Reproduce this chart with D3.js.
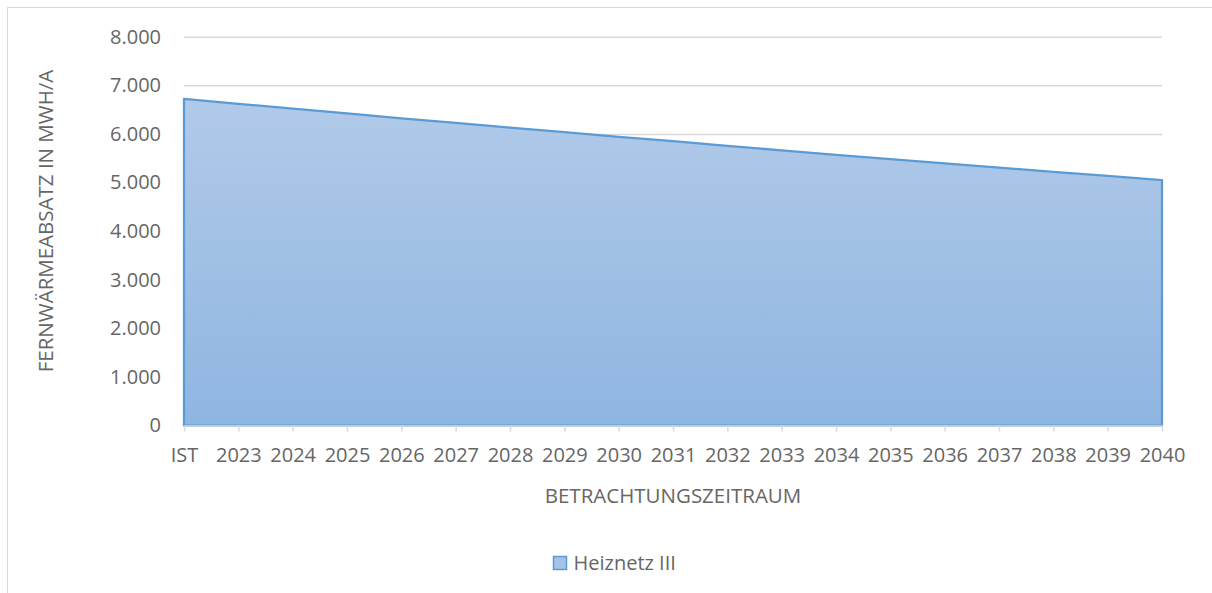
<!DOCTYPE html>
<html lang="de">
<head>
  <meta charset="UTF-8">
  <title>Fernwärmeabsatz Heiznetz III</title>
  <script src="https://d3js.org/d3.v7.min.js"></script>
  <style>
    body { margin: 0; background: #fff; }
    svg { display: block; font-family: "Open Sans", sans-serif; }
    .tick text { fill: #666; font-size: 20px; font-family: "Open Sans", sans-serif; }
  </style>
</head>
<body>
  <svg width="1212" height="593"></svg>

  <script>
    const categories = [`IST`, `2023`, `2024`, `2025`, `2026`, `2027`, `2028`, `2029`, `2030`,
      `2031`, `2032`, `2033`, `2034`, `2035`, `2036`, `2037`, `2038`, `2039`, `2040`];
    const heiznetz3 = [6720, 6620, 6520, 6420, 6320, 6225, 6130, 6035, 5940,
      5850, 5755, 5660, 5570, 5480, 5395, 5305, 5220, 5135, 5050];
    const yTicks = [0, 1000, 2000, 3000, 4000, 5000, 6000, 7000, 8000];
    const seriesName = `Heiznetz III`;
    const xTitle = `BETRACHTUNGSZEITRAUM`;
    const yTitle = `FERNWÄRMEABSATZ IN MWH/A`;

    const width = 1212;
    const height = 593;
    const margin = {top: 36.7, bottom: 167.5, left: 184, right: 50};

    const de = d3.formatLocale({decimal: `,`, thousands: `.`, grouping: [3], currency: [``, `€`]});
    const fmt = de.format(`,d`);

    const data = categories.map((c, i) => ({cat: c, value: heiznetz3[i]}));

    const xScale = d3.scalePoint()
      .domain(categories)
      .range([margin.left, width - margin.right])
      .padding(0);

    const yScale = d3.scaleLinear()
      .domain([0, 8000])
      .range([height - margin.bottom, margin.top]);

    const svg = d3.select(`svg`);

    // chart border (cut off on the right and bottom in the source)
    svg.append(`rect`)
      .attr(`x`, 7.5).attr(`y`, 7.5)
      .attr(`width`, 1220).attr(`height`, 600)
      .attr(`fill`, `none`)
      .attr(`stroke`, `#d9d9d9`);

    const defs = svg.append(`defs`);
    const grad = defs.append(`linearGradient`)
      .attr(`id`, `fillGrad`)
      .attr(`gradientUnits`, `userSpaceOnUse`)
      .attr(`x1`, 0).attr(`x2`, 0)
      .attr(`y1`, yScale(d3.max(heiznetz3))).attr(`y2`, yScale(0));
    grad.append(`stop`).attr(`offset`, `0%`).attr(`stop-color`, `#b1cae9`);
    grad.append(`stop`).attr(`offset`, `100%`).attr(`stop-color`, `#8fb5e1`);

    // gridlines
    const yAxis = d3.axisLeft(yScale)
      .tickValues(yTicks)
      .tickFormat(fmt)
      .tickSize(-(width - margin.right - margin.left))
      .tickPadding(23);

    const gy = svg.append(`g`)
      .attr(`transform`, `translate(${margin.left}, 0)`)
      .call(yAxis)
      .attr(`font-family`, null);
    gy.select(`.domain`).remove();
    gy.selectAll(`.tick line`)
      .attr(`stroke`, `#d9d9d9`)
      .attr(`stroke-width`, 1.5)
      .filter(d => d === 0).remove();

    const area = d3.area()
      .x(d => xScale(d.cat))
      .y0(yScale(0))
      .y1(d => yScale(d.value));

    svg.append(`path`)
      .datum(data)
      .attr(`d`, area)
      .attr(`fill`, `url(#fillGrad)`)
      .attr(`stroke`, `#5b9bd5`)
      .attr(`stroke-width`, 2.25)
      .attr(`stroke-linejoin`, `round`);

    const xAxis = d3.axisBottom(xScale)
      .tickSizeInner(6)
      .tickSizeOuter(0)
      .tickPadding(16);

    const gx = svg.append(`g`)
      .attr(`transform`, `translate(0, ${yScale(0)})`)
      .call(xAxis)
      .attr(`font-family`, null);
    gx.select(`.domain`).attr(`stroke`, `#d9d9d9`).attr(`stroke-width`, 1.5);
    gx.selectAll(`.tick line`).attr(`stroke`, `#d9d9d9`).attr(`stroke-width`, 1.5);

    // axis titles
    svg.append(`text`)
      .attr(`x`, (margin.left + width - margin.right) / 2)
      .attr(`y`, 503)
      .attr(`text-anchor`, `middle`)
      .attr(`fill`, `#666`)
      .style(`font-size`, `20.5px`)
      .text(xTitle);

    svg.append(`text`)
      .attr(`transform`, `translate(53, 221) rotate(-90)`)
      .attr(`text-anchor`, `middle`)
      .attr(`fill`, `#666`)
      .style(`font-size`, `20.5px`)
      .text(yTitle);

    // legend
    const legend = svg.append(`g`).attr(`transform`, `translate(553.5, 556.5)`);
    legend.append(`rect`)
      .attr(`width`, 13).attr(`height`, 13)
      .attr(`fill`, `#a6c2e6`)
      .attr(`stroke`, `#5b9bd5`)
      .attr(`stroke-width`, 1.5);
    legend.append(`text`)
      .attr(`x`, 20).attr(`y`, 13.5)
      .attr(`fill`, `#666`)
      .style(`font-size`, `20px`)
      .text(seriesName);
  </script>
</body>
</html>
